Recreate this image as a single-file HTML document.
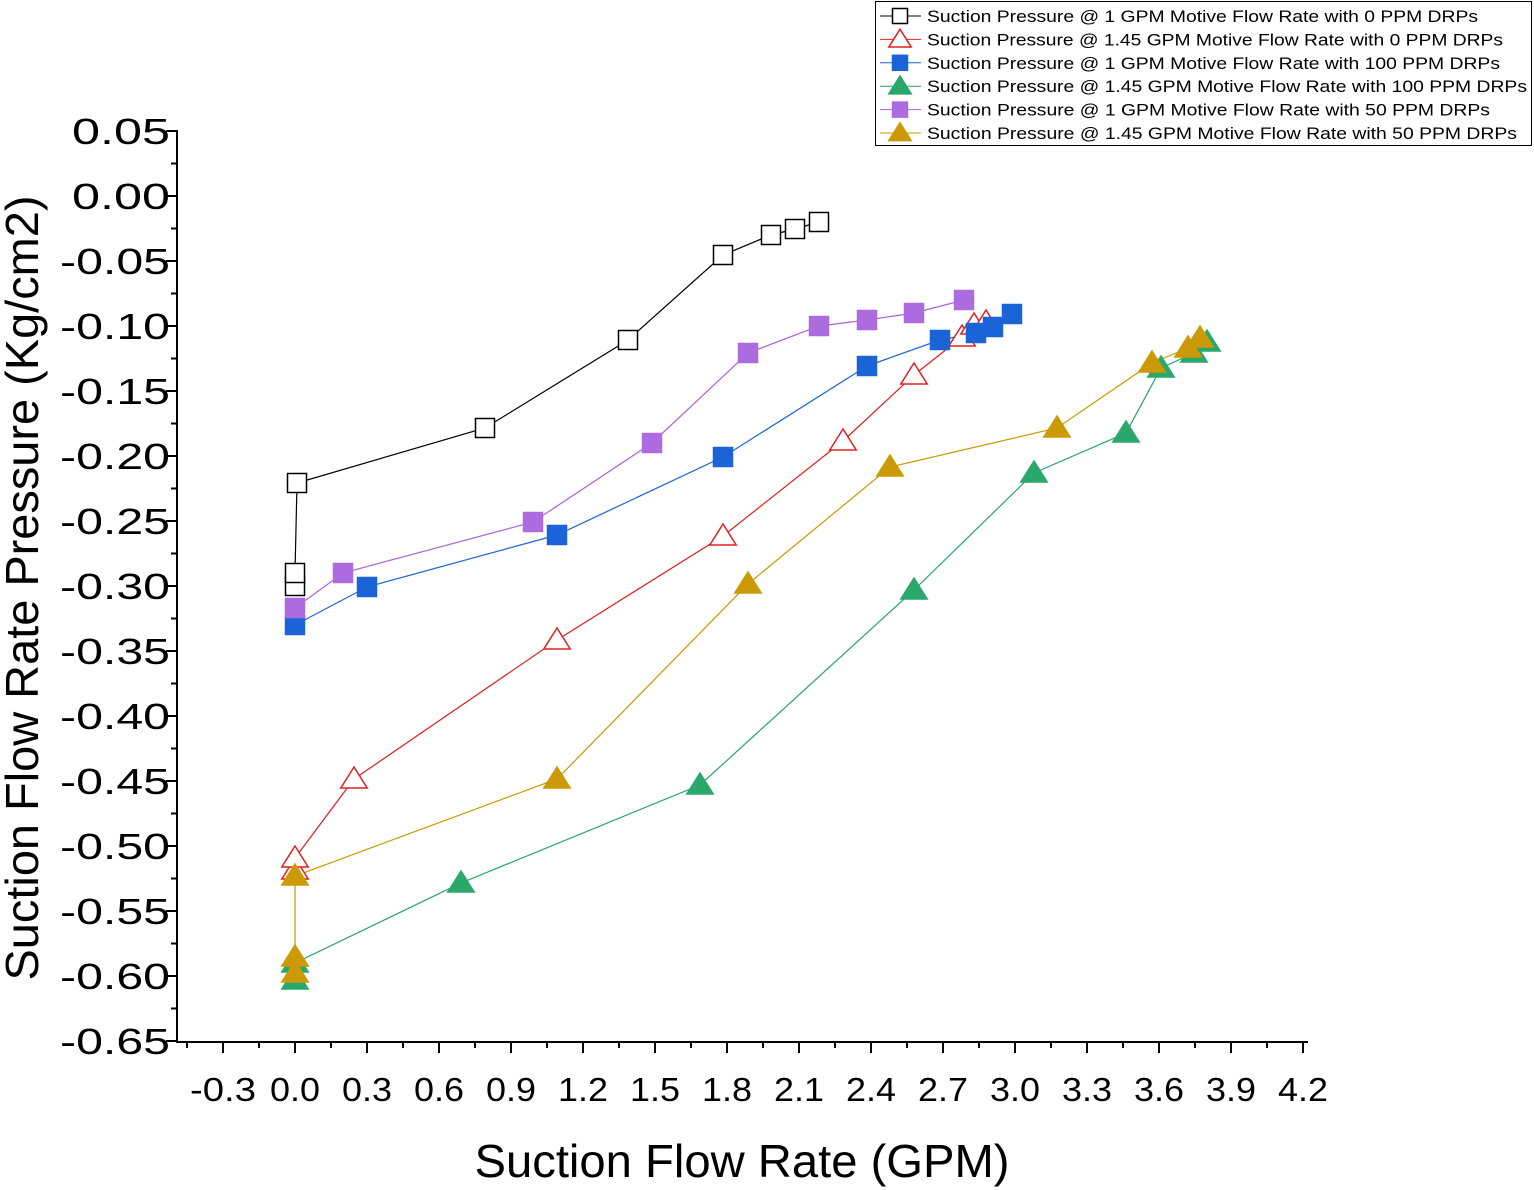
<!DOCTYPE html>
<html><head><style>body{margin:0;background:#fff}svg{display:block}text{font-family:"Liberation Sans",Arial,sans-serif}</style></head><body>
<svg width="1534" height="1190" viewBox="0 0 1534 1190" xmlns="http://www.w3.org/2000/svg">
<g stroke="#000" stroke-width="2" fill="none">
<line x1="177" y1="130" x2="177" y2="1042"/>
<line x1="176" y1="1042" x2="1308" y2="1042"/>
</g>
<g id="yt" stroke="#000" stroke-width="2"></g>
<g id="xt" stroke="#000" stroke-width="2"></g>
<g id="yl" font-size="36" text-anchor="end"></g>
<g id="xl" font-size="33" text-anchor="middle"></g>
<text x="742" y="1177" font-size="46" text-anchor="middle" textLength="535" lengthAdjust="spacingAndGlyphs">Suction Flow Rate (GPM)</text>
<text transform="translate(38,588) rotate(-90)" font-size="46" text-anchor="middle" textLength="785" lengthAdjust="spacingAndGlyphs">Suction Flow Rate Pressure (Kg/cm2)</text>
<g id="series"></g>
<rect x="875.5" y="1.5" width="656" height="144" fill="#fff" stroke="#000" stroke-width="1"/>
<g id="leg" font-size="17"></g>
<script>
var NS="http://www.w3.org/2000/svg";
function el(t,a,p){var e=document.createElementNS(NS,t);for(var k in a)e.setAttribute(k,a[k]);p.appendChild(e);return e;}
var yt=document.getElementById('yt'),xt=document.getElementById('xt'),yl=document.getElementById('yl'),xl=document.getElementById('xl');
function Y(v){return 131+(0.05-v)*1300;}
function X(v){return 295+v*240;}
for(var i=0;i<=28;i++){var v=0.05-i*0.025,y=Y(v);var maj=i%2==0;
el('line',{x1:maj?166:171,y1:y,x2:177,y2:y},yt);
if(maj){var s=v.toFixed(2).replace('-0.00','0.00');var t=el('text',{x:170,y:y+13,textLength:s[0]=='-'?110:98,lengthAdjust:'spacingAndGlyphs'},yl);t.textContent=s;}}
for(var i=-3;i<=28;i++){var v=i*0.15,x=X(v);if(x<178)continue;var maj=i%2==0;
el('line',{x1:x,y1:1042,x2:x,y2:maj?1053:1048},xt);
if(maj){var s=v.toFixed(1);var t=el('text',{x:x,y:1101,textLength:s[0]=='-'?66:50,lengthAdjust:'spacingAndGlyphs'},xl);t.textContent=s;}}
var S=[
{c:'#000',f:'#fff',m:'s',p:[[295,586],[295,573],[297,483],[485,428],[628,340],[723,255],[771,235],[795,229],[819,222]]},
{c:'#e02020',f:'#fff',m:'t',p:[[295,870],[295,858],[354,779],[557,640],[723,536],[843,441],[914,375],[962,337],[974,325],[986,322]]},
{c:'#1a64d8',f:'#1a64d8',m:'s',p:[[295,625],[367,587],[557,535],[723,457],[867,366],[940,340],[976,333],[993,327],[1012,314]]},
{c:'#26a468',f:'#2aa86c',m:'t',p:[[295,980],[295,963],[461,883],[700,785],[914,590],[1034,473],[1126,433],[1161,368],[1194,353],[1207,342]]},
{c:'#a964dc',f:'#ac6ce0',m:'s',p:[[295,608],[343,573],[533,522],[652,443],[748,353],[819,326],[867,320],[914,313],[964,300]]},
{c:'#c89a00',f:'#cc9a06',m:'t',p:[[295,973],[295,957],[295,876],[557,779],[748,584],[890,467],[1057,428],[1152,363],[1188,348],[1200,338]]}];
var sg=document.getElementById('series');
function mk(s,x,y,sz,g){if(s.m=='s'){var h=sz/2;el('rect',{x:x-h,y:y-h,width:sz,height:sz,fill:s.f,stroke:s.f=='#fff'?s.c:s.f,'stroke-width':1.5},g);}
else{var h=sz*0.6;el('polygon',{points:(x)+','+(y-h)+' '+(x+h*1.1)+','+(y+h*0.75)+' '+(x-h*1.1)+','+(y+h*0.75),fill:s.f,stroke:s.f=='#fff'?s.c:s.f,'stroke-width':1.5},g);}}
S.forEach(function(s){el('polyline',{points:s.p.map(function(q){return q.join(',')}).join(' '),fill:'none',stroke:s.c,'stroke-width':1.2},sg);});
S.forEach(function(s){s.p.forEach(function(q){mk(s,q[0],q[1],s.m=='s'?19:20,sg);});});
var names=['Suction Pressure @ 1 GPM Motive Flow Rate with 0 PPM DRPs','Suction Pressure @ 1.45 GPM Motive Flow Rate with 0 PPM DRPs','Suction Pressure @ 1 GPM Motive Flow Rate with 100 PPM DRPs','Suction Pressure @ 1.45 GPM Motive Flow Rate with 100 PPM DRPs','Suction Pressure @ 1 GPM Motive Flow Rate with 50 PPM DRPs','Suction Pressure @ 1.45 GPM Motive Flow Rate with 50 PPM DRPs'];
var ends=[1478,1503,1500,1527,1490,1517];
var lg=document.getElementById('leg');
S.forEach(function(s,i){var y=16+i*23.4;el('line',{x1:880,y1:y,x2:921,y2:y,stroke:s.c,'stroke-width':1},lg);mk(s,900,y,s.m=='s'?15:17,lg);var t=el('text',{x:927,y:y+6,textLength:ends[i]-927,lengthAdjust:'spacingAndGlyphs'},lg);t.textContent=names[i];});
</script>
</svg>
</body></html>
